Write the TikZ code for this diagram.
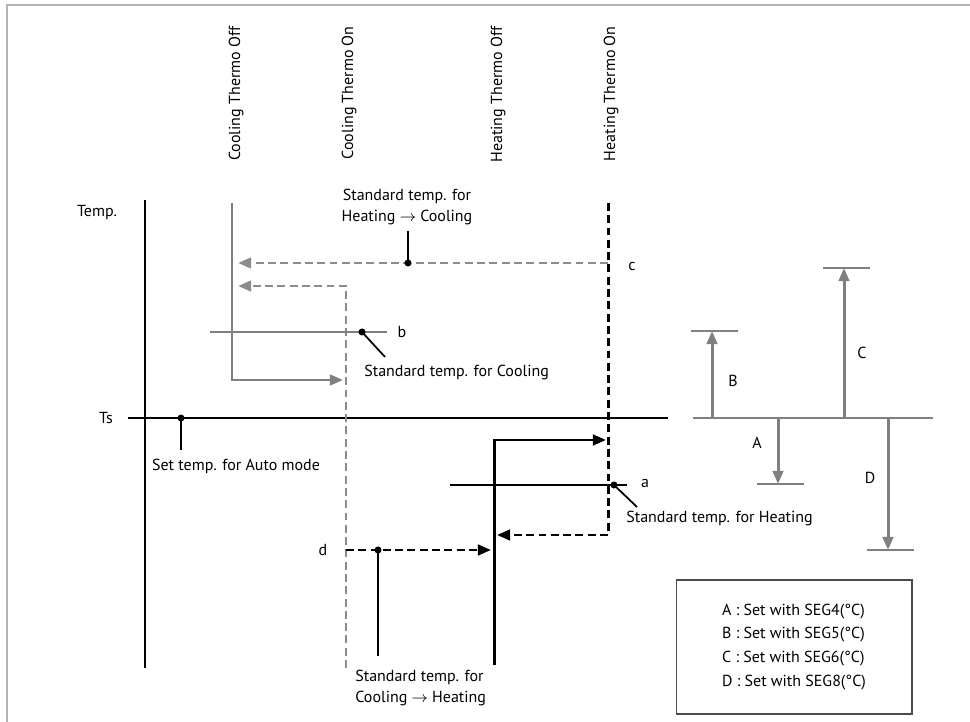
\documentclass[tikz,border=0pt]{standalone}
\usepackage{fontspec}
\setmainfont{PT Sans}
\usetikzlibrary{arrows.meta}
\definecolor{framegray}{HTML}{B3B3B3}
\definecolor{linegray}{HTML}{808080}
\definecolor{dashgray}{HTML}{8C8C8C}
\tikzset{
  txt/.style={font=\fontsize{9.1}{12}\selectfont, inner sep=0pt},
  heavy/.style={line width=1.7pt},
  hairline/.style={line width=0.7pt},
  dashes/.style={dash pattern=on 4.5pt off 2.5pt},
  pin/.style={line width=1pt},
}
\begin{document}
\begin{tikzpicture}[x=0.02cm, y=-0.02cm, >={Triangle[length=7.5pt,width=6pt]}]
  \useasboundingbox (0,0) rectangle (970,722);
  % outer frame
  \draw[framegray, line width=1.2pt] (7,722) -- (7,5) -- (970,5);

  % column headings
  \node[txt, rotate=90, anchor=east] (cooloff) at (236,26) {Cooling Thermo Off};
  \node[txt, rotate=90, anchor=east] (coolon) at (349,26) {Cooling Thermo On};
  \node[txt, rotate=90, anchor=east] (heatoff) at (498,26) {Heating Thermo Off};
  \node[txt, rotate=90, anchor=east] (heaton) at (611,26) {Heating Thermo On};

  % axes
  \coordinate (axtop) at (145,200);
  \coordinate (axbot) at (145,668);
  \coordinate (tsl) at (128,418);
  \coordinate (tsr) at (668,418);
  \draw[heavy] (axtop) -- (axbot);
  \draw[heavy] (tsl) -- (tsr);
  \node[txt] (temp) at (97,213) {Temp.};
  \node[txt] (ts) at (106,418) {Ts};

  % set temp for auto mode
  \coordinate (autodot) at (181,418);
  \coordinate (autoend) at (181,450);
  \fill (autodot) circle (2pt);
  \draw[pin] (autodot) -- (autoend);
  \node[txt, anchor=north] (auto) at (236,459) {Set temp. for Auto mode};

  % cooling thermo
  \coordinate (c1) at (232,203);
  \coordinate (c2) at (232,380);
  \coordinate (c3) at (343,380);
  \draw[linegray, heavy, ->] (c1) -- (c2) -- (c3);
  \coordinate (c4) at (346,668);
  \coordinate (c5) at (346,286);
  \coordinate (c6) at (238,286);
  \draw[dashgray, heavy, dashes, ->] (c4) -- (c5) -- (c6);
  \coordinate (hc1) at (608,263);
  \coordinate (hc2) at (238,263);
  \draw[dashgray, heavy, dashes, ->] (hc1) -- (hc2);

  % heating thermo
  \coordinate (h1) at (608,203);
  \coordinate (h2) at (608,535);
  \coordinate (h3) at (497,535);
  \draw[heavy, dashes, ->] (h1) -- (h2) -- (h3);
  \coordinate (h4) at (494,665);
  \coordinate (h5) at (494,440);
  \coordinate (h6) at (606,440);
  \draw[heavy, ->] (h4) -- (h5) -- (h6);
  \coordinate (ch1) at (346,550);
  \coordinate (ch2) at (491,550);
  \draw[heavy, dashes, ->] (ch1) -- (ch2);

  % standard temp for heating -> cooling
  \coordinate (hcdot) at (408,263);
  \coordinate (hcend) at (408,231);
  \fill (hcdot) circle (2pt);
  \draw[pin] (hcdot) -- (hcend);
  \node[txt, align=center] (hclbl) at (407,207) {Standard temp. for\\Heating $\rightarrow$ Cooling};
  \node[txt] (c) at (632,267) {c};

  % standard temp for cooling
  \coordinate (bl) at (210,332);
  \coordinate (br) at (387,332);
  \coordinate (bdot) at (362,332);
  \coordinate (bend) at (385,357);
  \draw[linegray, hairline] (bl) -- (br);
  \fill (bdot) circle (2pt);
  \draw[pin] (bdot) -- (bend);
  \node[txt] (b) at (402,332) {b};
  \node[txt, anchor=west] (blbl) at (364,373) {Standard temp. for Cooling};

  % standard temp for heating
  \coordinate (al) at (450,485);
  \coordinate (ar) at (627,485);
  \coordinate (adot) at (614,485);
  \coordinate (aend) at (637,507);
  \draw[hairline] (al) -- (ar);
  \fill (adot) circle (2pt);
  \draw[pin] (adot) -- (aend);
  \node[txt] (a) at (645,484) {a};
  \node[txt, anchor=west] (albl) at (626,519) {Standard temp. for Heating};

  % standard temp for cooling -> heating
  \coordinate (chdot) at (378,550);
  \coordinate (chend) at (378,656);
  \fill (chdot) circle (2pt);
  \draw[pin] (chdot) -- (chend);
  \node[txt] (d) at (323,550) {d};
  \node[txt, align=left, anchor=west] (chlbl) at (355,688) {Standard temp. for\\Cooling $\rightarrow$ Heating};

  % offsets A-D
  \coordinate (rl) at (693,418);
  \coordinate (rr) at (933,418);
  \draw[linegray, heavy] (rl) -- (rr);
  \foreach \name/\x/\y/\lx/\ly in {B/712/331/733/381, C/844/268/862/353, A/778/484/757/443, D/888/550/870/478}{
    \draw[linegray, heavy, ->] (\x,418) -- (\x,\y);
    \draw[linegray, hairline] (\x-21,\y) -- (\x+26,\y);
    \node[txt] (lbl\name) at (\lx,\ly) {\name};
  }

  % legend
  \node[draw=black!70, line width=0.6pt, minimum width=4.72cm, minimum height=2.68cm,
        txt, align=left, font=\fontsize{9.1}{13.6}\selectfont] (legend) at (794,647)
    {A : Set with SEG4(°C)\\B : Set with SEG5(°C)\\C : Set with SEG6(°C)\\D : Set with SEG8(°C)};
\end{tikzpicture}
\end{document}
